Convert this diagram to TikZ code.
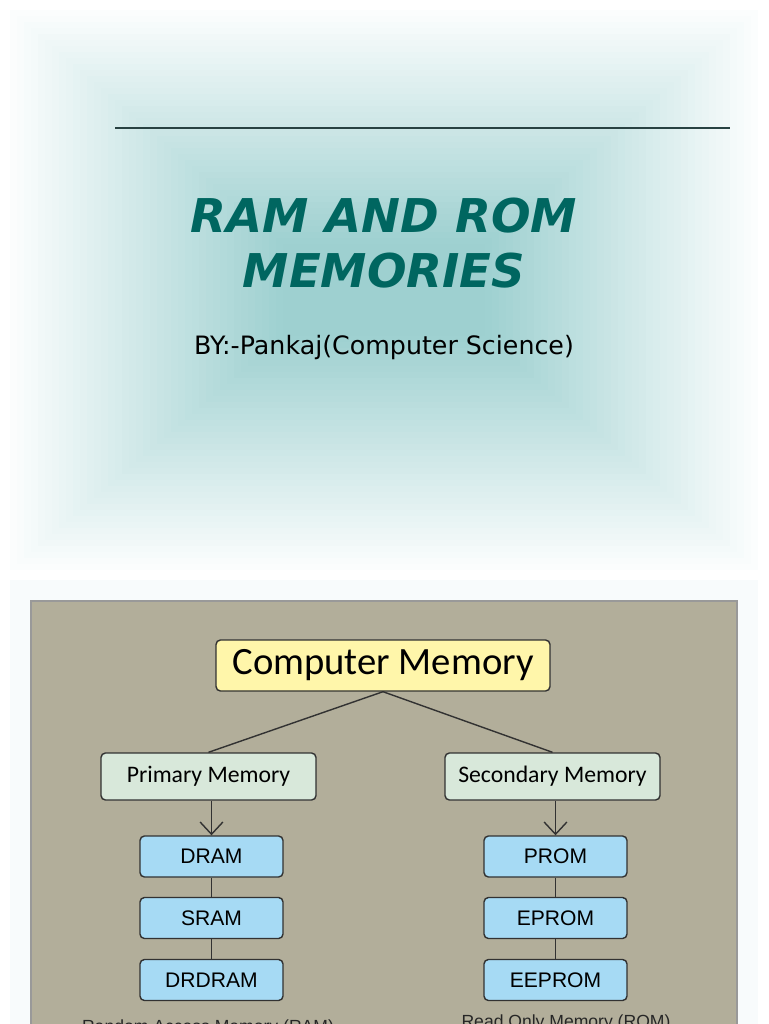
\documentclass[tikz,border=0pt]{standalone}
\usepackage{fontspec}
\setmainfont{DejaVu Sans}
\newfontfamily\calfont{Carlito}
\newfontfamily\arialfont{Liberation Sans}
\usetikzlibrary{arrows.meta}
\definecolor{glowteal}{RGB}{158,208,208}
\definecolor{titleteal}{RGB}{0,102,96}
\definecolor{slidewhite}{RGB}{248,251,252}
\definecolor{panelgray}{RGB}{178,174,154}
\definecolor{rootyellow}{RGB}{255,246,170}
\definecolor{levelgreen}{RGB}{216,232,218}
\definecolor{leafblue}{RGB}{166,218,244}
\definecolor{edgedark}{RGB}{50,50,50}

\begin{document}
\begin{tikzpicture}[x=0.02cm, y=-0.02cm,
    box/.style={draw=edgedark, line width=0.8pt, rounded corners=2.5pt, inner sep=0pt},
    rootbox/.style={box, fill=rootyellow, minimum width=6.68cm, minimum height=1.02cm,
        font=\calfont\fontsize{22}{26}\selectfont},
    levelbox/.style={box, fill=levelgreen, minimum width=4.3cm, minimum height=0.94cm,
        font=\calfont\fontsize{13.5}{16}\selectfont},
    leafbox/.style={box, fill=leafblue, minimum width=2.86cm, minimum height=0.82cm,
        font=\arialfont\fontsize{12}{14}\selectfont},
    link/.style={edgedark, line width=0.8pt},
    grouplabel/.style={font=\arialfont\fontsize{10}{12}\selectfont, text=black!85, inner sep=0pt}]
    \useasboundingbox (0,0) rectangle (768,1024);
    \clip (0,0) rectangle (768,1024);
    \fill[white] (0,0) rectangle (768,1024);

    % Title slide glow
    \foreach \i in {0,...,40}{
        \pgfmathsetmacro{\p}{min(100,4+\i*2.5)}
        \fill[glowteal!\p!white] (10+7*\i,10+6*\i) rectangle (758-7*\i,570-6*\i);
    }
    \draw[edgedark!80!teal, line width=0.9pt] (115,128) -- (730,128);
    \node[font=\bfseries\itshape\fontsize{26.5}{31.7}\selectfont, text=titleteal, align=center]
        (title) at (384,243) {RAM AND ROM\\MEMORIES};
    \node[font=\fontsize{14.4}{17}\selectfont] (author) at (384,348) {BY:-Pankaj(Computer Science)};

    % Second slide
    \fill[slidewhite] (10,580) rectangle (758,1024);
    \fill[panelgray] (31,601) rectangle (737,1024);
    \draw[gray!80, line width=0.6pt] (31,1024) -- (31,601) -- (737,601) -- (737,1024);

    % Tree
    \node[rootbox] (cmem) at (383,665.5) {Computer Memory};
    \node[levelbox] (pmem) at (208.5,776.5) {Primary Memory};
    \node[levelbox] (smem) at (552.5,776.5) {Secondary Memory};

    \node[leafbox] (dram) at (211.5,856.5) {DRAM};
    \node[leafbox] (sram) at (211.5,918) {SRAM};
    \node[leafbox] (drdram) at (211.5,980) {DRDRAM};
    \node[leafbox] (prom) at (555.5,856.5) {PROM};
    \node[leafbox] (eprom) at (555.5,918) {EPROM};
    \node[leafbox] (eeprom) at (555.5,980) {EEPROM};

    \draw[link] (cmem.south) -- (pmem.north);
    \draw[link] (cmem.south) -- (smem.north);
    \draw[link, -{Straight Barb[length=7pt,width=13pt]}] (dram.north |- pmem.south) -- (dram.north);
    \draw[link, -{Straight Barb[length=7pt,width=13pt]}] (prom.north |- smem.south) -- (prom.north);
    \draw[link] (dram) -- (sram);
    \draw[link] (sram) -- (drdram);
    \draw[link] (prom) -- (eprom);
    \draw[link] (eprom) -- (eeprom);

    % Group captions (cut by the page edge)
    \node[grouplabel, anchor=north] (ramlabel) at (208,1019) {Random Access Memory (RAM)};
    \node[grouplabel, anchor=north] (romlabel) at (566,1014) {Read Only Memory (ROM)};
\end{tikzpicture}
\end{document}
